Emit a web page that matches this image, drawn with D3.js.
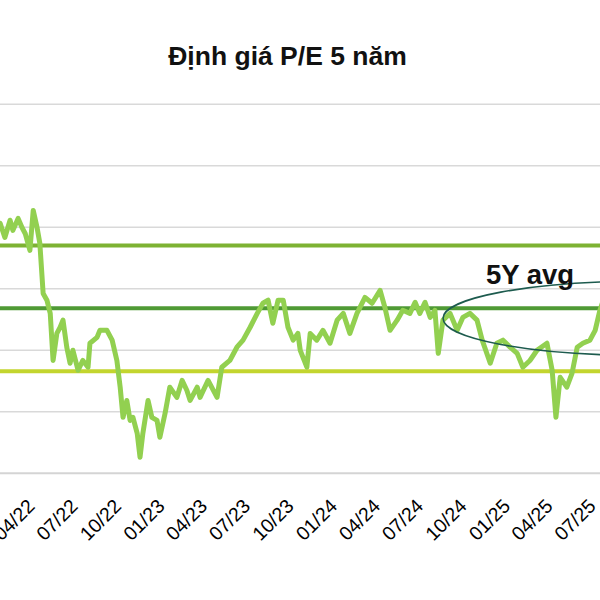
<!DOCTYPE html>
<html>
<head>
<meta charset="utf-8">
<script src="https://cdn.jsdelivr.net/npm/d3@7"></script>
<style>
  html, body { margin: 0; padding: 0; background: #fff; }
  svg { display: block; font-family: "Liberation Sans", Arial, sans-serif; }
</style>
</head>
<body>
<svg id="chart" width="600" height="600"></svg>
<script>
// ---- Data ----
const dates = [
  "2022-01-13","2022-01-23","2022-02-03","2022-02-09","2022-02-20","2022-02-28","2022-03-07","2022-03-17","2022-03-24","2022-04-01",
  "2022-04-07","2022-04-14","2022-04-22","2022-04-29","2022-05-05","2022-05-13","2022-05-20","2022-05-26","2022-06-03","2022-06-10",
  "2022-06-16","2022-06-27","2022-07-07","2022-07-18","2022-07-22","2022-08-06","2022-08-12","2022-08-27","2022-09-07","2022-09-17",
  "2022-09-24","2022-09-30","2022-10-08","2022-10-15","2022-10-21","2022-10-30","2022-11-05","2022-11-11","2022-11-22","2022-11-30",
  "2022-12-11","2022-12-17","2022-12-28","2023-01-07","2023-01-22","2023-02-02","2023-02-12","2023-02-19","2023-03-06","2023-03-12",
  "2023-03-29","2023-04-17","2023-04-27","2023-05-14","2023-05-29","2023-06-11","2023-06-26","2023-07-11","2023-07-23","2023-08-03",
  "2023-08-13","2023-08-24","2023-09-04","2023-09-14","2023-09-25","2023-10-05","2023-10-10","2023-10-24","2023-10-31","2023-11-14",
  "2023-11-27","2023-12-12","2023-12-27","2024-01-09","2024-01-23","2024-02-07","2024-02-24","2024-03-10","2024-03-27","2024-04-06",
  "2024-04-17","2024-05-02","2024-05-14","2024-05-29","2024-06-09","2024-06-19","2024-06-30","2024-07-11","2024-07-21","2024-07-28",
  "2024-08-07","2024-08-22","2024-09-06","2024-09-18","2024-10-03","2024-10-18","2024-10-29","2024-11-15","2024-11-29","2024-12-12",
  "2024-12-27","2025-01-11","2025-01-23","2025-02-07","2025-02-22","2025-03-15","2025-03-26","2025-04-03","2025-04-12","2025-04-26",
  "2025-05-07","2025-05-18","2025-05-30","2025-06-14","2025-06-25","2025-07-05","2025-07-16"
];
const pe = [
  16.13,15.67,16.23,15.90,16.29,16.00,15.80,15.25,16.55,16.00,
  15.48,13.85,13.63,13.20,11.67,12.55,12.75,12.98,12.10,11.58,
  12.00,11.35,11.67,11.45,12.23,12.42,12.65,12.65,12.33,11.67,
  10.80,9.82,10.37,9.72,9.82,9.30,8.52,9.30,10.37,9.82,
  9.72,9.17,9.95,10.80,10.47,11.02,10.70,10.37,10.80,10.47,
  11.02,10.47,11.45,11.67,12.10,12.33,12.75,13.20,13.53,13.63,
  12.88,13.63,13.63,12.75,12.33,12.55,12.00,11.45,12.55,12.33,
  12.65,12.23,12.98,13.20,12.55,13.20,13.72,13.53,13.95,13.40,
  12.65,12.98,13.30,13.20,13.56,13.20,13.56,13.07,13.30,11.90,
  12.98,13.20,12.65,13.07,13.20,12.98,12.33,11.58,12.23,12.33,
  12.10,11.90,11.45,11.67,12.00,12.23,11.35,9.82,11.12,10.80,
  11.25,12.10,12.23,12.33,12.65,13.30,13.79
];
const avg5y = 13.37;
const upperBand = 15.41;   // +1 SD
const lowerBand = 11.32;   // -1 SD
const yTicks = [8, 10, 12, 14, 16, 18, 20];
const titleText = "Định giá P/E 5 năm";
const avgLabel = "5Y avg";

// ---- Chart ----
const svg = d3.select("#chart");
const parse = d3.timeParse("%Y-%m-%d");
const series = dates.map((d, i) => ({ date: parse(d), value: pe[i] }));

const x = d3.scaleTime()
  .domain([parse("2022-04-01"), parse("2025-07-01")])
  .range([37, 598]);
const y = d3.scaleLinear().domain([8, 20]).range([473.3, 104.3]);

// gridlines
svg.append("g").selectAll("line")
  .data(yTicks.slice(1))
  .join("line")
  .attr("x1", 0).attr("x2", 600)
  .attr("y1", d => y(d)).attr("y2", d => y(d))
  .attr("stroke", "#d9d9d9").attr("stroke-width", 1.6);

// bottom axis
const xAxis = d3.axisBottom(x)
  .ticks(d3.timeMonth.every(3))
  .tickFormat(d3.timeFormat("%m/%y"))
  .tickSize(0);
const ax = svg.append("g").attr("transform", `translate(0,${y(8)})`).call(xAxis);
ax.select(".domain").attr("d", "M0,0H600").attr("stroke", "#d4d4d4").attr("stroke-width", 2);
ax.selectAll(".tick text")
  .attr("font-family", "Liberation Sans, Arial, sans-serif")
  .attr("font-size", 19.5)
  .attr("fill", "#000")
  .attr("text-anchor", "end")
  .attr("dy", 0)
  .attr("y", 0)
  .attr("transform", "translate(-1.5,34) rotate(-45)");

// bands
const bands = [
  { v: upperBand, c: "#7db233" },
  { v: avg5y, c: "#4f9a35" },
  { v: lowerBand, c: "#c3d52e" }
];
svg.append("g").selectAll("line")
  .data(bands)
  .join("line")
  .attr("x1", 0).attr("x2", 600)
  .attr("y1", d => y(d.v)).attr("y2", d => y(d.v))
  .attr("stroke", d => d.c).attr("stroke-width", 4);

// P/E line
const line = d3.line().x(d => x(d.date)).y(d => y(d.value));
svg.append("path")
  .datum(series)
  .attr("d", line)
  .attr("fill", "none")
  .attr("stroke", "#92d050")
  .attr("stroke-width", 5)
  .attr("stroke-linejoin", "round")
  .attr("stroke-linecap", "round");

// annotation ellipse
svg.append("ellipse")
  .attr("cx", x(parse("2025-09-28")))
  .attr("cy", y(13.04))
  .attr("rx", 197).attr("ry", 37)
  .attr("fill", "none")
  .attr("stroke", "#1d5b4e")
  .attr("stroke-width", 1.6);

svg.append("text")
  .attr("x", x(parse("2024-11-06")))
  .attr("y", y(14.17))
  .attr("font-size", 27.5)
  .attr("font-weight", "bold")
  .attr("fill", "#111")
  .text(avgLabel);

// title
svg.append("text")
  .attr("x", 287.5).attr("y", 65)
  .attr("text-anchor", "middle")
  .attr("font-size", 26.5)
  .attr("font-weight", "bold")
  .attr("fill", "#111")
  .text(titleText);
</script>
</body>
</html>
